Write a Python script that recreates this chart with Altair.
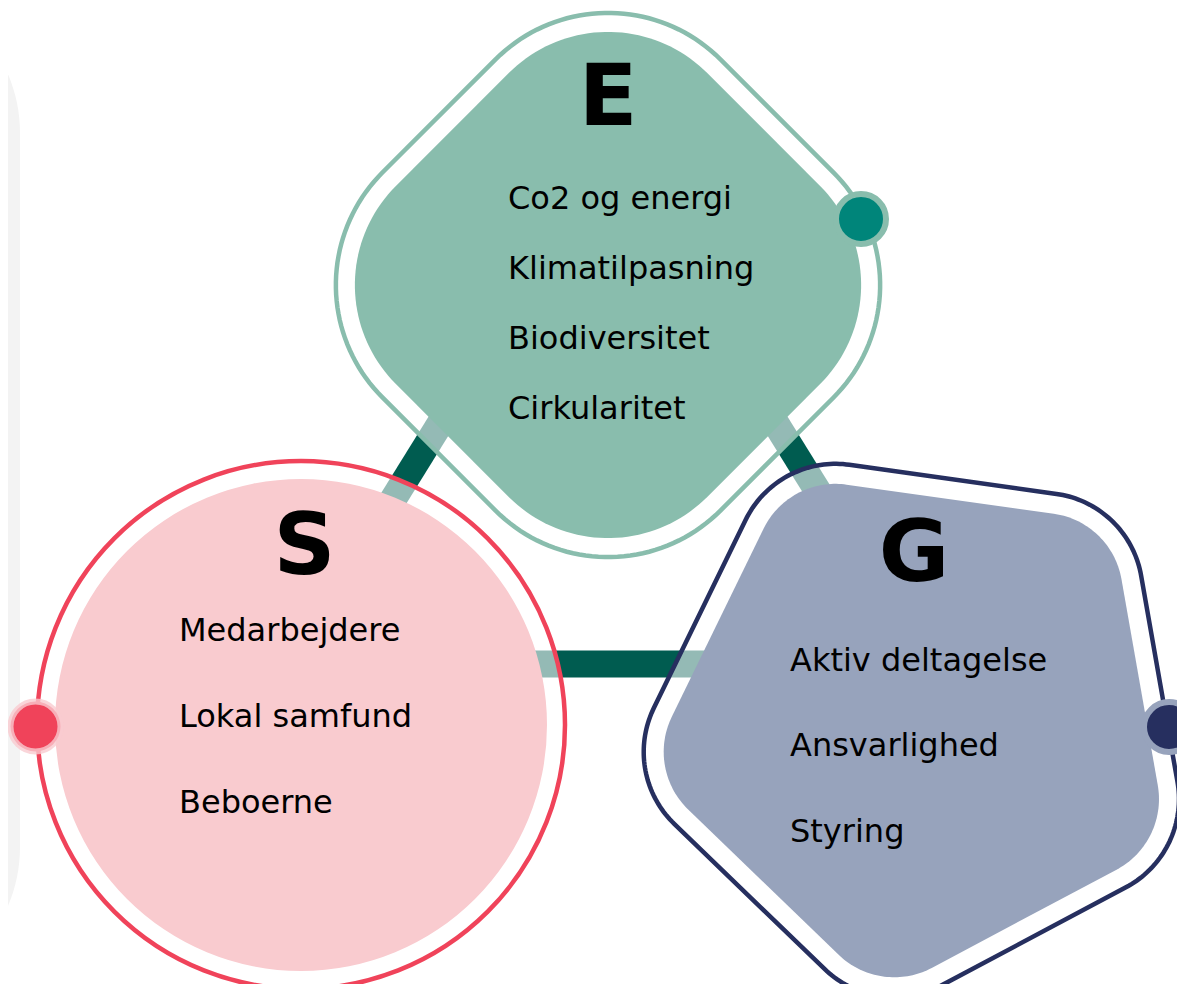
import altair as alt
import numpy as np
import pandas as pd

# ---------------- content ----------------
pillar_letters = ["E", "S", "G"]
e_items = ["Co2 og energi", "Klimatilpasning", "Biodiversitet", "Cirkularitet"]
s_items = ["Medarbejdere", "Lokal samfund", "Beboerne"]
g_items = ["Aktiv deltagelse", "Ansvarlighed", "Styring"]

# ---------------- layout (page pixel coordinates) ----------------
X0, X1, Y0, Y1 = 8, 1177, 8, 984
W, H = X1 - X0, Y1 - Y0

GREY = "#F3F3F3"
E_COL, E_DOT = "#89BDAD", "#00857A"
S_FILL, S_RING = "#F9CBCF", "#F0435A"
G_FILL, G_LINE = "#97A3BC", "#262F5F"
CONN = "#005C50"

E_C, E_APO, E_RAD = (608, 285), 220, 140
E_NORMALS = [-135, -45, 45, 135]
S_C, S_RAD = (301, 725), 246
G_C, G_APO, G_RAD = (919, 721), 224, 80
G_NORMALS = [-82, -10, 62, 134, 206]
GAP = 19
LINE_W = 4.5
GAP_OPACITY = 0.58
HALF = 300  # half size of custom symbol box

xs = alt.Scale(domain=[X0, X1], nice=False, zero=False)
ys = alt.Scale(domain=[Y0, Y1], nice=False, zero=False, reverse=True)
X = alt.X("x:Q", scale=xs, axis=None)
Y = alt.Y("y:Q", scale=ys, axis=None)


def rounded_polygon(apothem, radius, normals_deg, n_arc=40):
    n = len(normals_deg)
    half = np.pi / n
    pts = []
    for k in range(n):
        a0 = np.radians(normals_deg[k])
        a1 = np.radians(normals_deg[(k + 1) % n])
        if a1 < a0:
            a1 += 2 * np.pi
        phi = (a0 + a1) / 2
        d = (apothem - radius) / np.cos(half)
        cx, cy = d * np.cos(phi), d * np.sin(phi)
        t = np.linspace(a0, a1, n_arc)
        pts += list(zip(cx + radius * np.cos(t), cy + radius * np.sin(t)))
    return pts


def symbol_path(pts):
    parts = [("M" if i == 0 else "L") + f"{px / HALF:.4f},{py / HALF:.4f}"
             for i, (px, py) in enumerate(pts)]
    return " ".join(parts) + " Z"


def pt(cx, cy):
    return pd.DataFrame({"x": [cx], "y": [cy]})


def shape_layer(path, c, **kw):
    return alt.Chart(pt(*c)).mark_point(shape=path, size=(2 * HALF) ** 2,
                                        opacity=1, **kw).encode(x=X, y=Y)


def circle_layer(c, r, **kw):
    return alt.Chart(pt(*c)).mark_point(shape="circle", size=(2 * r) ** 2,
                                        opacity=1, **kw).encode(x=X, y=Y)


# background grey panel on the left edge
grey = alt.Chart(pd.DataFrame({"x": [-400], "x2": [20], "y": [-17], "y2": [997]})).mark_rect(
    color=GREY, cornerRadius=150).encode(x=X, x2="x2:Q", y=Y, y2="y2:Q")

# connectors
conn_ends = {
    "ES": [(469.6, 376.0), (375.0, 528.5)],
    "EG": [(746.4, 376.0), (841.0, 528.5)],
    "SG": [(520.0, 664.0), (720.0, 664.0)],
}
rows = []
for cid, ends in conn_ends.items():
    for k, (px, py) in enumerate(ends):
        rows.append({"id": cid, "k": k, "x": px, "y": py})
connectors = alt.Chart(pd.DataFrame(rows)).mark_line(
    color=CONN, strokeWidth=27, strokeCap="butt").encode(x=X, y=Y, detail="id:N", order="k:Q")

# E shape
e_out = symbol_path(rounded_polygon(E_APO + GAP, E_RAD + GAP, E_NORMALS))
e_in = symbol_path(rounded_polygon(E_APO, E_RAD, E_NORMALS))
e_outline = shape_layer(e_out, E_C, filled=True, fill="white", fillOpacity=GAP_OPACITY,
                        stroke=E_COL, strokeWidth=LINE_W)
e_fill = shape_layer(e_in, E_C, filled=True, fill=E_COL, strokeWidth=0)

# S shape
s_outline = circle_layer(S_C, S_RAD + 18, filled=True, fill="white", fillOpacity=GAP_OPACITY,
                         stroke=S_RING, strokeWidth=LINE_W)
s_fill = circle_layer(S_C, S_RAD, filled=True, fill=S_FILL, strokeWidth=0)

# G shape
g_out = symbol_path(rounded_polygon(G_APO + GAP + 1, G_RAD + GAP + 1, G_NORMALS))
g_in = symbol_path(rounded_polygon(G_APO, G_RAD, G_NORMALS))
g_outline = shape_layer(g_out, G_C, filled=True, fill="white", fillOpacity=GAP_OPACITY,
                        stroke=G_LINE, strokeWidth=LINE_W)
g_fill = shape_layer(g_in, G_C, filled=True, fill=G_FILL, strokeWidth=0)

# dots on the outlines
dots = [
    ((861, 219), E_DOT, E_COL, 1.0),
    ((35.5, 726.5), S_RING, S_FILL, 0.8),
    ((1169, 727), G_LINE, G_FILL, 1.0),
]
dot_layers = [circle_layer(c, 25, filled=True, fill=f, stroke=s, strokeWidth=6,
                           strokeOpacity=so) for c, f, s, so in dots]

# texts
letter_pos = [(608, 125), (304.5, 574), (914, 580.5)]
letters_df = pd.DataFrame({"text": pillar_letters,
                           "x": [p[0] for p in letter_pos],
                           "y": [p[1] for p in letter_pos]})
letters = alt.Chart(letters_df).mark_text(
    align="center", baseline="alphabetic", font="DejaVu Sans", fontWeight="bold",
    fontSize=86, color="#000000").encode(x=X, y=Y, text="text:N")

item_rows = []
for items, x0, y0, dy in [(e_items, 508, 209, 70), (s_items, 179, 641, 86),
                          (g_items, 790, 670.5, 85.5)]:
    for i, t in enumerate(items):
        item_rows.append({"text": t, "x": x0, "y": y0 + i * dy})
items = alt.Chart(pd.DataFrame(item_rows)).mark_text(
    align="left", baseline="alphabetic", font="DejaVu Sans", fontSize=32,
    color="#000000").encode(x=X, y=Y, text="text:N")

chart = alt.layer(
    grey, connectors,
    e_outline, s_outline, g_outline,
    e_fill, s_fill, g_fill,
    *dot_layers,
    letters, items,
).properties(
    width=W, height=H, padding=0, autosize=alt.AutoSizeParams(type="none")
).configure_view(stroke=None)

chart.save("out.html", embed_options={"renderer": "svg", "actions": False})
